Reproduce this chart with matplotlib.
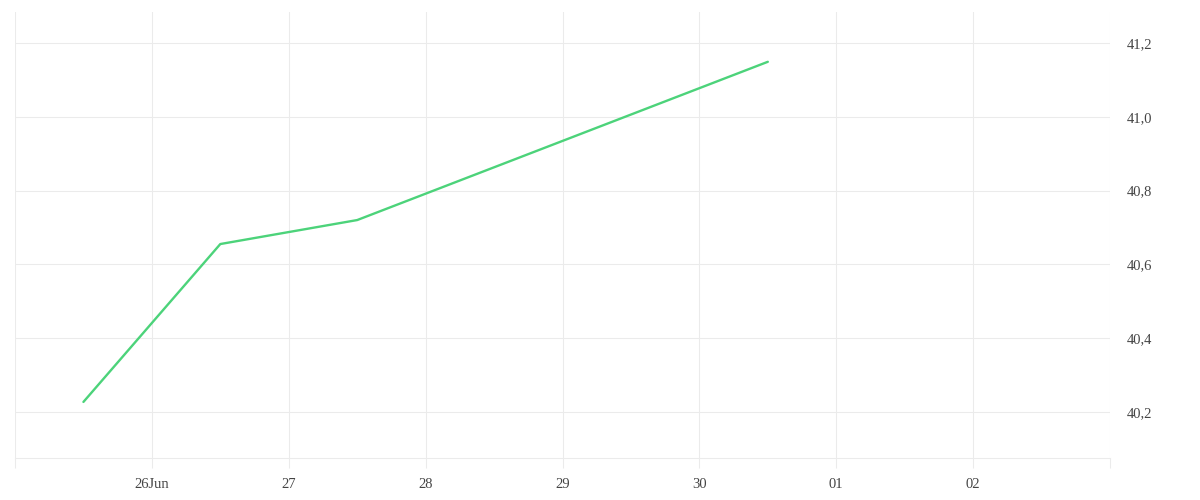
import matplotlib
matplotlib.use("Agg")
import matplotlib.pyplot as plt
import matplotlib.dates as mdates
import pandas as pd

dates = ["2024-06-25 12:00", "2024-06-26 12:00", "2024-06-27 12:00", "2024-06-30 12:00"]
values = [40.227, 40.655, 40.72, 41.149]
tick_days = ["2024-06-25", "2024-06-26", "2024-06-27", "2024-06-28", "2024-06-29",
             "2024-06-30", "2024-07-01", "2024-07-02", "2024-07-03"]
tick_labels = ["", "26Jun", "27", "28", "29", "30", "01", "02", ""]
y_ticks = [40.2, 40.4, 40.6, 40.8, 41.0, 41.2]
y_labels = ["40,2", "40,4", "40,6", "40,8", "41,0", "41,2"]

plt.rcParams['font.family'] = ['Liberation Serif', 'DejaVu Serif']
grid_c = "#ebebeb"

fig = plt.figure(figsize=(12, 5), dpi=100)
ax = fig.add_axes([15/1200, 42/500, 1095/1200, 446/500])

x = mdates.date2num(pd.to_datetime(dates))
xt = mdates.date2num(pd.to_datetime(tick_days))
ax.plot(x, values, color="#4cd37a", lw=1.7, solid_capstyle="round", zorder=3)

ax.set_xlim(xt[0], xt[-1])
ax.set_ylim(40.075, 41.284)
ax.set_xticks(xt)
ax.set_xticklabels(tick_labels)
ax.set_yticks(y_ticks)
ax.set_yticklabels(y_labels)

ax.yaxis.tick_right()
ax.grid(True, color=grid_c, lw=0.75)
ax.tick_params(axis="x", length=7.2, width=0.75, color=grid_c, pad=7,
               labelsize=10.5, labelcolor="#444444")
ax.tick_params(axis="y", length=0, pad=12, labelsize=10.5, labelcolor="#444444",
               right=False, labelright=True, left=False, labelleft=False)
for s in ["top", "left", "right"]:
    ax.spines[s].set_visible(False)
ax.spines["bottom"].set_color(grid_c)
ax.spines["bottom"].set_linewidth(0.75)

fig.savefig("out.png", dpi=100, facecolor="white")
